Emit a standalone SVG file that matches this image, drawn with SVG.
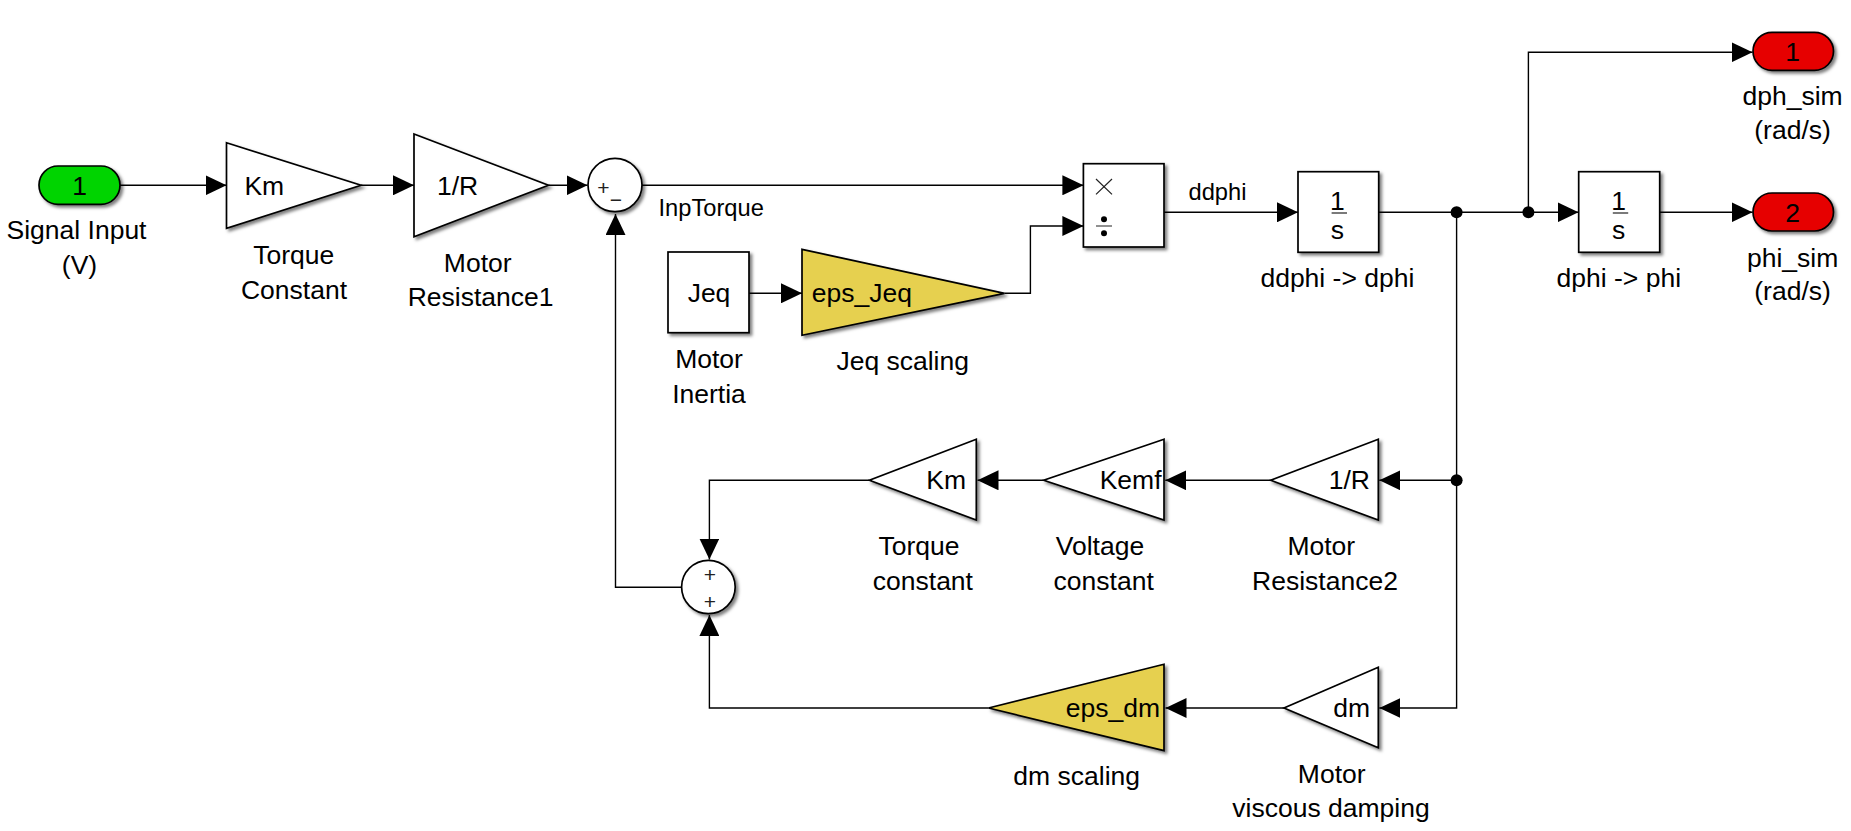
<svg xmlns="http://www.w3.org/2000/svg" width="1851" height="831" viewBox="0 0 1851 831">
<defs>
<filter id="sh" x="-20%" y="-20%" width="140%" height="140%"><feDropShadow dx="2.5" dy="2.5" stdDeviation="1.6" flood-color="#000" flood-opacity="0.5"/></filter>
<marker id="ah" markerUnits="userSpaceOnUse" markerWidth="21" markerHeight="20" refX="21" refY="10" orient="auto"><path d="M0 0L21 10L0 20Z" fill="#000"/></marker>
</defs>
<style>
text{font-family:"Liberation Sans",Arial,sans-serif;font-size:26.5px;fill:#000;transform:translateY(1px)}
.c{text-anchor:middle}
.e{text-anchor:end}
.sig{font-size:23.7px;transform:none}
.sign{font-size:21px;fill:#222;text-anchor:middle;transform:none}
.b{stroke:#000;stroke-width:1.7;fill:#fff;filter:url(#sh);stroke-linejoin:miter}
.y{fill:#E6D050}
.gr{fill:#00D400}
.rd{fill:#E60000}
.w{fill:none;stroke:#000;stroke-width:1.4}
.a{marker-end:url(#ah)}
.t{fill:none;stroke:#222;stroke-width:1.2}
</style>
<rect width="1851" height="831" fill="#fff"/>
<g id="connectors">
<path class="w a" d="M120 185.3H226.5"/>
<path class="w a" d="M361 185.3H414"/>
<path class="w a" d="M548.4 185.3H587.5"/>
<path class="w a" d="M642 185.3H1083.4"/>
<path class="w a" d="M749 293.3H802"/>
<path class="w a" d="M1004.5 293.3H1030.4V226H1083.4"/>
<path class="w a" d="M1164 212.3H1298"/>
<path class="w a" d="M1378.7 212.3H1578.5"/>
<path class="w a" d="M1528.4 212.3V52.3H1752.5"/>
<path class="w a" d="M1659.7 212.3H1752.5"/>
<path class="w a" d="M1456.6 212.3V708H1379.3"/>
<path class="w a" d="M1456.6 480.3H1379.3"/>
<path class="w a" d="M1270.7 480.3H1165.3"/>
<path class="w a" d="M1043.7 480.3H977.5"/>
<path class="w a" d="M869.4 480.3H709.4V559.5"/>
<path class="w a" d="M1284 708H1165.5"/>
<path class="w a" d="M988.5 708H709.4V615"/>
<path class="w a" d="M681.6 587.3H615.5V214"/>
<circle cx="1456.6" cy="212.3" r="6"/>
<circle cx="1528.4" cy="212.3" r="6"/>
<circle cx="1456.6" cy="480.3" r="6"/>
<text class="sig" x="658.5" y="216">InpTorque</text>
<text class="sig" x="1188.5" y="200">ddphi</text>
</g>
<g id="signal-input">
<rect class="b gr" x="39" y="166" width="81" height="38.3" rx="19" ry="19"/>
<text class="c" x="79.5" y="194">1</text>
<text class="c" x="76.5" y="238.3">Signal Input</text>
<text class="c" x="79.5" y="273">(V)</text>
</g>
<g id="torque-constant-gain">
<path class="b" d="M226.5 142.7L361 185.3L226.5 228.3Z"/>
<text x="244.4" y="194.3">Km</text>
<text class="c" x="293.8" y="262.7">Torque</text>
<text class="c" x="294" y="297.7">Constant</text>
</g>
<g id="motor-resistance1">
<path class="b" d="M414 134L548.4 185.3L414 236.7Z"/>
<text x="437" y="194.3">1/R</text>
<text class="c" x="477.7" y="270.7">Motor</text>
<text class="c" x="480.6" y="305.3">Resistance1</text>
</g>
<g id="sum1">
<ellipse class="b" cx="615" cy="185" rx="27" ry="26.7"/>
<text class="sign" x="603.5" y="194.5">+</text>
<text class="sign" x="616" y="207">−</text>
</g>
<g id="product">
<rect class="b" x="1083.4" y="163.7" width="80.6" height="83.3"/>
<path class="t" d="M1096 179L1112 194.4M1112 179L1096 194.4M1096 226H1112"/>
<circle cx="1104" cy="219.3" r="3"/>
<circle cx="1104" cy="233.3" r="3"/>
</g>
<g id="motor-inertia">
<rect class="b" x="668" y="252" width="81" height="80.7"/>
<text class="c" x="709" y="301">Jeq</text>
<text class="c" x="709" y="367.3">Motor</text>
<text class="c" x="709" y="401.7">Inertia</text>
</g>
<g id="jeq-scaling">
<path class="b y" d="M802 249.3L1004.5 293.3L802 335.3Z"/>
<text x="811.8" y="301">eps_Jeq</text>
<text class="c" x="902.7" y="369">Jeq scaling</text>
</g>
<g id="integrator1">
<rect class="b" x="1298" y="171.7" width="80.7" height="80.6"/>
<text class="c" x="1337.4" y="208.5">1</text>
<path class="t" d="M1331.6 213H1347"/>
<text class="c" x="1337.4" y="238">s</text>
<text class="c" x="1337.4" y="286">ddphi -&gt; dphi</text>
</g>
<g id="integrator2">
<rect class="b" x="1578.7" y="171.7" width="81" height="80.6"/>
<text class="c" x="1618.6" y="208.5">1</text>
<path class="t" d="M1612.8 213H1628.2"/>
<text class="c" x="1618.6" y="238">s</text>
<text class="c" x="1618.8" y="286">dphi -&gt; phi</text>
</g>
<g id="output1">
<rect class="b rd" x="1753" y="32.3" width="80.5" height="38" rx="19" ry="19"/>
<text class="c" x="1792.6" y="60">1</text>
<text class="c" x="1792.6" y="104.3">dph_sim</text>
<text class="c" x="1792.6" y="138">(rad/s)</text>
</g>
<g id="output2">
<rect class="b rd" x="1753" y="193" width="80.5" height="38" rx="19" ry="19"/>
<text class="c" x="1792.6" y="220.8">2</text>
<text class="c" x="1792.6" y="265.7">phi_sim</text>
<text class="c" x="1792.6" y="299">(rad/s)</text>
</g>
<g id="motor-resistance2">
<path class="b" d="M1378.3 439.3L1270.7 480.3L1378.3 520Z"/>
<text class="e" x="1370" y="488.3">1/R</text>
<text class="c" x="1321.3" y="554.3">Motor</text>
<text class="c" x="1325" y="589.3">Resistance2</text>
</g>
<g id="voltage-constant">
<path class="b" d="M1164 439.3L1043.7 480.3L1164 520Z"/>
<text class="e" x="1161.5" y="488.3">Kemf</text>
<text class="c" x="1100" y="554.3">Voltage</text>
<text class="c" x="1103.7" y="589.3">constant</text>
</g>
<g id="torque-constant2">
<path class="b" d="M976.3 439.3L869.4 480.3L976.3 520Z"/>
<text class="e" x="966" y="488.3">Km</text>
<text class="c" x="919" y="554.3">Torque</text>
<text class="c" x="922.9" y="589.3">constant</text>
</g>
<g id="sum2">
<ellipse class="b" cx="708.4" cy="587" rx="26.8" ry="26.7"/>
<text class="sign" x="709.8" y="581.5">+</text>
<text class="sign" x="709.8" y="609">+</text>
</g>
<g id="dm-scaling">
<path class="b y" d="M1164 664.3L988.5 708L1164 750.7Z"/>
<text class="e" x="1160" y="716">eps_dm</text>
<text class="c" x="1076.7" y="784.3">dm scaling</text>
</g>
<g id="motor-viscous-damping">
<path class="b" d="M1378.3 667.3L1284 708L1378.3 747.7Z"/>
<text class="e" x="1370" y="716">dm</text>
<text class="c" x="1331.7" y="782.3">Motor</text>
<text class="c" x="1331" y="816">viscous damping</text>
</g>
</svg>
